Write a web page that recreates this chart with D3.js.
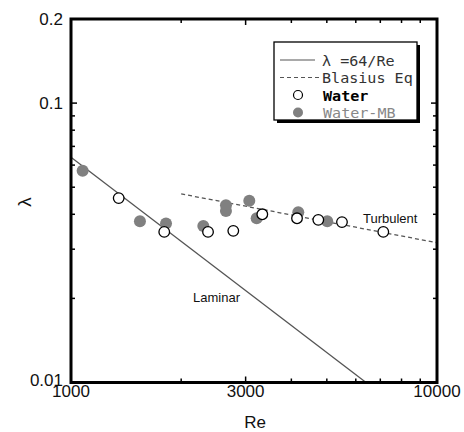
<!DOCTYPE html>
<html>
<head>
<meta charset="utf-8">
<script src="https://cdn.jsdelivr.net/npm/d3@7"></script>
<style>
  body { margin: 0; background: #fff; }
</style>
</head>
<body>
<div id="canvas"></div>
<script>
"use strict"

// Water (open circles)
let waterRe = [1350, 1798, 2368, 2776, 3332, 4145, 4739, 5500, 7133];
let waterLambda = [0.0457, 0.0346, 0.0346, 0.0349, 0.0400, 0.0387, 0.0382, 0.0375, 0.0346];

// Water-MB (grey filled circles)
let mbRe = [1076, 1543, 1818, 2299, 2651, 2651, 3070, 3216, 4178, 5014];
let mbLambda = [0.0573, 0.0378, 0.0371, 0.0363, 0.0431, 0.0411, 0.0447, 0.0387, 0.0407, 0.0378];

// reference curves
let laminarRe = [1000, 6400];
let blasiusRe = [2000, 10000];

let xTickLabels = [1000, 3000, 10000];
let xMinorTicks = [2000, 4000, 5000, 6000, 7000, 8000, 9000];
let yTickLabels = [0.01, 0.1, 0.2];
let yMinorTicks = [0.02, 0.03, 0.04, 0.05, 0.06, 0.07, 0.08, 0.09];

let legendLabels = ["\u03bb =64/Re", "Blasius Eq", "Water", "Water-MB"];

let drawingWidth = 464;
let drawingHeight = 432;

let plotLeft = 71, plotRight = 437, plotTop = 19, plotBottom = 382.5;

let drawing = d3.select("#canvas")
    .append("svg")
    .attr("width", drawingWidth)
    .attr("height", drawingHeight);

let x = d3.scaleLog().domain([1000, 10000]).range([plotLeft, plotRight]);
let y = d3.scaleLog().domain([0.01, 0.2]).range([plotBottom, plotTop]);

let lineGray = "#555";

/* reference curves */
let line = d3.line().x(d => x(d[0])).y(d => y(d[1]));

drawing.append("path")
    .attr("d", line(laminarRe.map(r => [r, 64 / r])))
    .attr("fill", "none")
    .attr("stroke", lineGray)
    .attr("stroke-width", 1.3);

drawing.append("path")
    .attr("d", line(blasiusRe.map(r => [r, 0.3164 * Math.pow(r, -0.25)])))
    .attr("fill", "none")
    .attr("stroke", lineGray)
    .attr("stroke-width", 1.3)
    .attr("stroke-dasharray", "4,3");

/* points */
drawing.selectAll(".mb")
    .data(mbRe)
    .enter().append("circle")
    .attr("cx", d => x(d))
    .attr("cy", (d, i) => y(mbLambda[i]))
    .attr("r", 6)
    .attr("fill", "#808080");

drawing.selectAll(".water")
    .data(waterRe)
    .enter().append("circle")
    .attr("cx", d => x(d))
    .attr("cy", (d, i) => y(waterLambda[i]))
    .attr("r", 5.3)
    .attr("fill", "white")
    .attr("stroke", "black")
    .attr("stroke-width", 1.3);

/* annotations */
drawing.append("text")
    .attr("x", 193).attr("y", 302)
    .attr("font-family", "Liberation Sans, Arial, sans-serif")
    .attr("font-size", 13)
    .attr("fill", "#111")
    .text("Laminar");

drawing.append("text")
    .attr("x", 363).attr("y", 223)
    .attr("font-family", "Liberation Sans, Arial, sans-serif")
    .attr("font-size", 13)
    .attr("fill", "#111")
    .text("Turbulent");

/* ticks, inward on all four sides */
let ticks = drawing.append("g").attr("stroke", "black").attr("stroke-width", 1.5);

xTickLabels.concat(xMinorTicks).forEach(function (t) {
    let len = xTickLabels.includes(t) ? 6 : 4;
    ticks.append("line").attr("x1", x(t)).attr("x2", x(t)).attr("y1", plotBottom).attr("y2", plotBottom - len);
    ticks.append("line").attr("x1", x(t)).attr("x2", x(t)).attr("y1", plotTop).attr("y2", plotTop + len);
});

yTickLabels.concat(yMinorTicks).forEach(function (t) {
    let len = yTickLabels.includes(t) ? 6 : 4;
    ticks.append("line").attr("y1", y(t)).attr("y2", y(t)).attr("x1", plotLeft).attr("x2", plotLeft + len);
    ticks.append("line").attr("y1", y(t)).attr("y2", y(t)).attr("x1", plotRight).attr("x2", plotRight - len);
});

/* frame */
drawing.append("rect")
    .attr("x", plotLeft).attr("y", plotTop)
    .attr("width", plotRight - plotLeft).attr("height", plotBottom - plotTop)
    .attr("fill", "none")
    .attr("stroke", "black")
    .attr("stroke-width", 3);

/* tick labels */
drawing.selectAll(".xl")
    .data(xTickLabels)
    .enter().append("text")
    .attr("x", d => x(d))
    .attr("y", 397)
    .attr("text-anchor", "middle")
    .attr("font-family", "Liberation Sans, Arial, sans-serif")
    .attr("font-size", 17)
    .attr("fill", "#111")
    .text(d => d);

drawing.selectAll(".yl")
    .data(yTickLabels)
    .enter().append("text")
    .attr("x", 63)
    .attr("y", d => y(d) + (d === 0.01 ? 3.5 : 6))
    .attr("text-anchor", "end")
    .attr("font-family", "Liberation Sans, Arial, sans-serif")
    .attr("font-size", 17)
    .attr("fill", "#111")
    .text(d => d);

/* axis titles */
drawing.append("text")
    .attr("x", 255).attr("y", 428)
    .attr("text-anchor", "middle")
    .attr("font-family", "Liberation Sans, Arial, sans-serif")
    .attr("font-size", 17)
    .attr("fill", "#111")
    .text("Re");

drawing.append("text")
    .attr("transform", "translate(31,202) rotate(-90)")
    .attr("text-anchor", "middle")
    .attr("font-family", "Liberation Sans, Arial, sans-serif")
    .attr("font-size", 19)
    .attr("fill", "#111")
    .text("\u03bb");

/* legend */
let lx = 274, ly = 42, lw = 143, lh = 78;

drawing.append("rect")
    .attr("x", lx + 3).attr("y", ly + 3)
    .attr("width", lw).attr("height", lh)
    .attr("fill", "black");

drawing.append("rect")
    .attr("x", lx).attr("y", ly)
    .attr("width", lw).attr("height", lh)
    .attr("fill", "white")
    .attr("stroke", "black")
    .attr("stroke-width", 1.3);

let rowY = [60, 77.5, 95, 112.5];
let legendColors = ["#333", "#333", "#000", "#888"];

drawing.append("line")
    .attr("x1", 280).attr("x2", 315).attr("y1", rowY[0]).attr("y2", rowY[0])
    .attr("stroke", lineGray).attr("stroke-width", 1.2);

drawing.append("line")
    .attr("x1", 280).attr("x2", 321).attr("y1", rowY[1]).attr("y2", rowY[1])
    .attr("stroke", lineGray).attr("stroke-width", 1.2)
    .attr("stroke-dasharray", "4,3");

drawing.append("circle")
    .attr("cx", 298).attr("cy", rowY[2]).attr("r", 4.5)
    .attr("fill", "white").attr("stroke", "black").attr("stroke-width", 1.2);

drawing.append("circle")
    .attr("cx", 298).attr("cy", rowY[3]).attr("r", 5)
    .attr("fill", "#808080");

legendLabels.forEach(function (label, i) {
    drawing.append("text")
        .attr("transform", "translate(" + (i < 2 ? 322 : 323) + "," + (rowY[i] + 5.5) + ") scale(1.04,1)")
        .attr("font-family", "DejaVu Sans Mono, monospace")
        .attr("font-size", 14.5)
        .attr("font-weight", i === 2 ? "bold" : "normal")
        .attr("fill", legendColors[i])
        .text(label);
});
</script>
</body>
</html>
